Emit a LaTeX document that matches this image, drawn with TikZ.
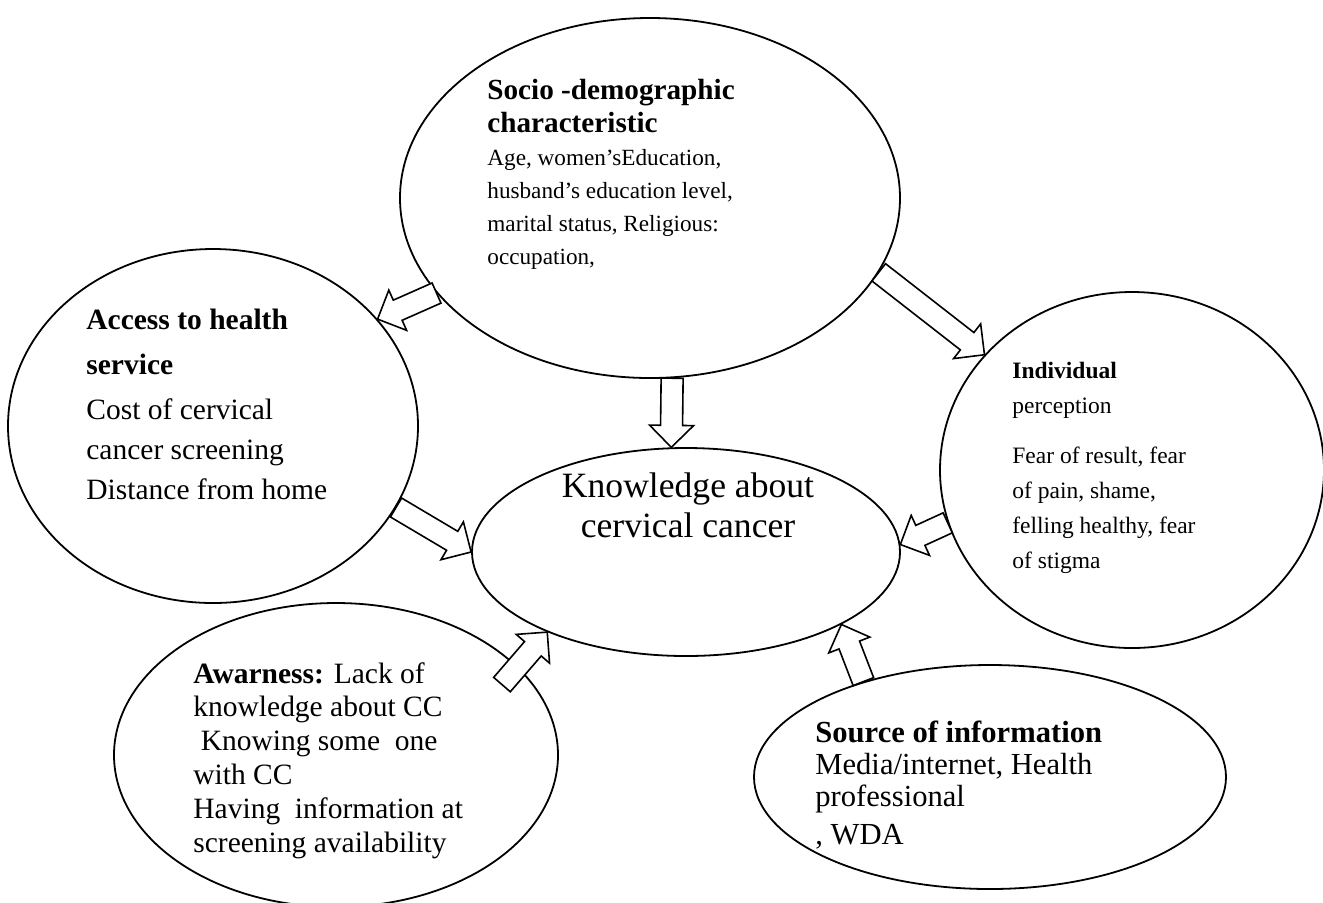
\documentclass[tikz,border=0pt]{standalone}
\usepackage{fontspec}
\setmainfont{Liberation Serif}
\usetikzlibrary{shapes.geometric,calc}
\newcommand{\blockarrow}[2]{%
  \coordinate (ah) at ($(#2)!11pt!(#1)$);
  \draw[arrowline] ($(#1)!5.5pt!90:(#2)$) -- ($(ah)!5.5pt!-90:(#1)$) -- ($(ah)!11pt!-90:(#1)$) -- (#2) -- ($(ah)!11pt!90:(#1)$) -- ($(ah)!5.5pt!90:(#1)$) -- ($(#1)!5.5pt!-90:(#2)$) -- cycle;}
\newcommand{\headfont}{\fontsize{14.6}{16.5}\selectfont\bfseries}
\begin{document}
\begin{tikzpicture}[x=0.5pt,y=-0.5pt,line join=miter]
			\tikzset{bubble/.style={ellipse,draw,line width=0.9pt,inner sep=0pt},
				txt/.style={inner sep=0pt,anchor=north west,align=left,font=\fontsize{14.75}{16.9}\selectfont},
				arrowline/.style={draw,fill=white,line width=0.8pt}}
			\useasboundingbox (0,0) rectangle (1323,902);
			\node[bubble,minimum width=250pt,minimum height=180pt] (socio) at (650,198) {};
			\node[bubble,minimum width=205pt,minimum height=177pt] (access) at (213,426) {};
			\node[bubble,minimum width=214pt,minimum height=104pt] (know) at (686,552) {};
			\node[bubble,minimum width=192pt,minimum height=178pt] (indiv) at (1132,470) {};
			\node[bubble,minimum width=222pt,minimum height=152pt] (aware) at (336,755) {};
			\node[bubble,minimum width=236pt,minimum height=112pt] (source) at (990,777) {};
			\node[txt,font=\fontsize{11.6}{16.5}\selectfont] (sociotxt) at (487,79) {{\headfont Socio -demographic}\\ {\headfont characteristic}\\ Age, women’sEducation,\\ husband’s education level,\\ marital status, Religious:\\ occupation,};
			\node[txt,font=\fontsize{14.75}{20}\selectfont] (accesstxt) at (86,309) {\textbf{Access to health}\\[2.5pt] \textbf{service}\\[2.5pt] Cost of cervical\\ cancer screening\\ Distance from home};
			\node[inner sep=0pt,align=center,font=\fontsize{17.8}{20}\selectfont] (knowtxt) at (688,505) {Knowledge about\\ cervical cancer};
			\node[txt,font=\fontsize{11.75}{17.5}\selectfont] (indivtxt) at (1012,362) {\textbf{Individual}\\ perception\\[7.5pt] Fear of result, fear\\ of pain, shame,\\ felling healthy, fear\\ of stigma};
			\node[txt] (awaretxt) at (193,662) {\textbf{Awarness:} Lack of\\ knowledge about CC\\ \hspace*{.25em}Knowing some\ \ one\\ with CC\\ Having\ \ information at\\ screening availability};
			\node[txt,font=\fontsize{15.3}{16}\selectfont] (sourcetxt) at (815,721) {\textbf{Source of information}\\ Media/internet, Health\\ professional\\[3pt] , WDA};
			\coordinate (awarebase) at ($(aware.26)!-12pt!(know.210)$);
			\blockarrow{socio.204}{access.33}
			\blockarrow{socio.-83}{know.98}
			\blockarrow{socio.-18}{indiv.142}
			\blockarrow{access.-24}{know.180}
			\blockarrow{indiv.196}{know.2}
			\blockarrow{awarebase}{know.210}
			\blockarrow{source.143}{know.-25}
	\end{tikzpicture}
\end{document}
